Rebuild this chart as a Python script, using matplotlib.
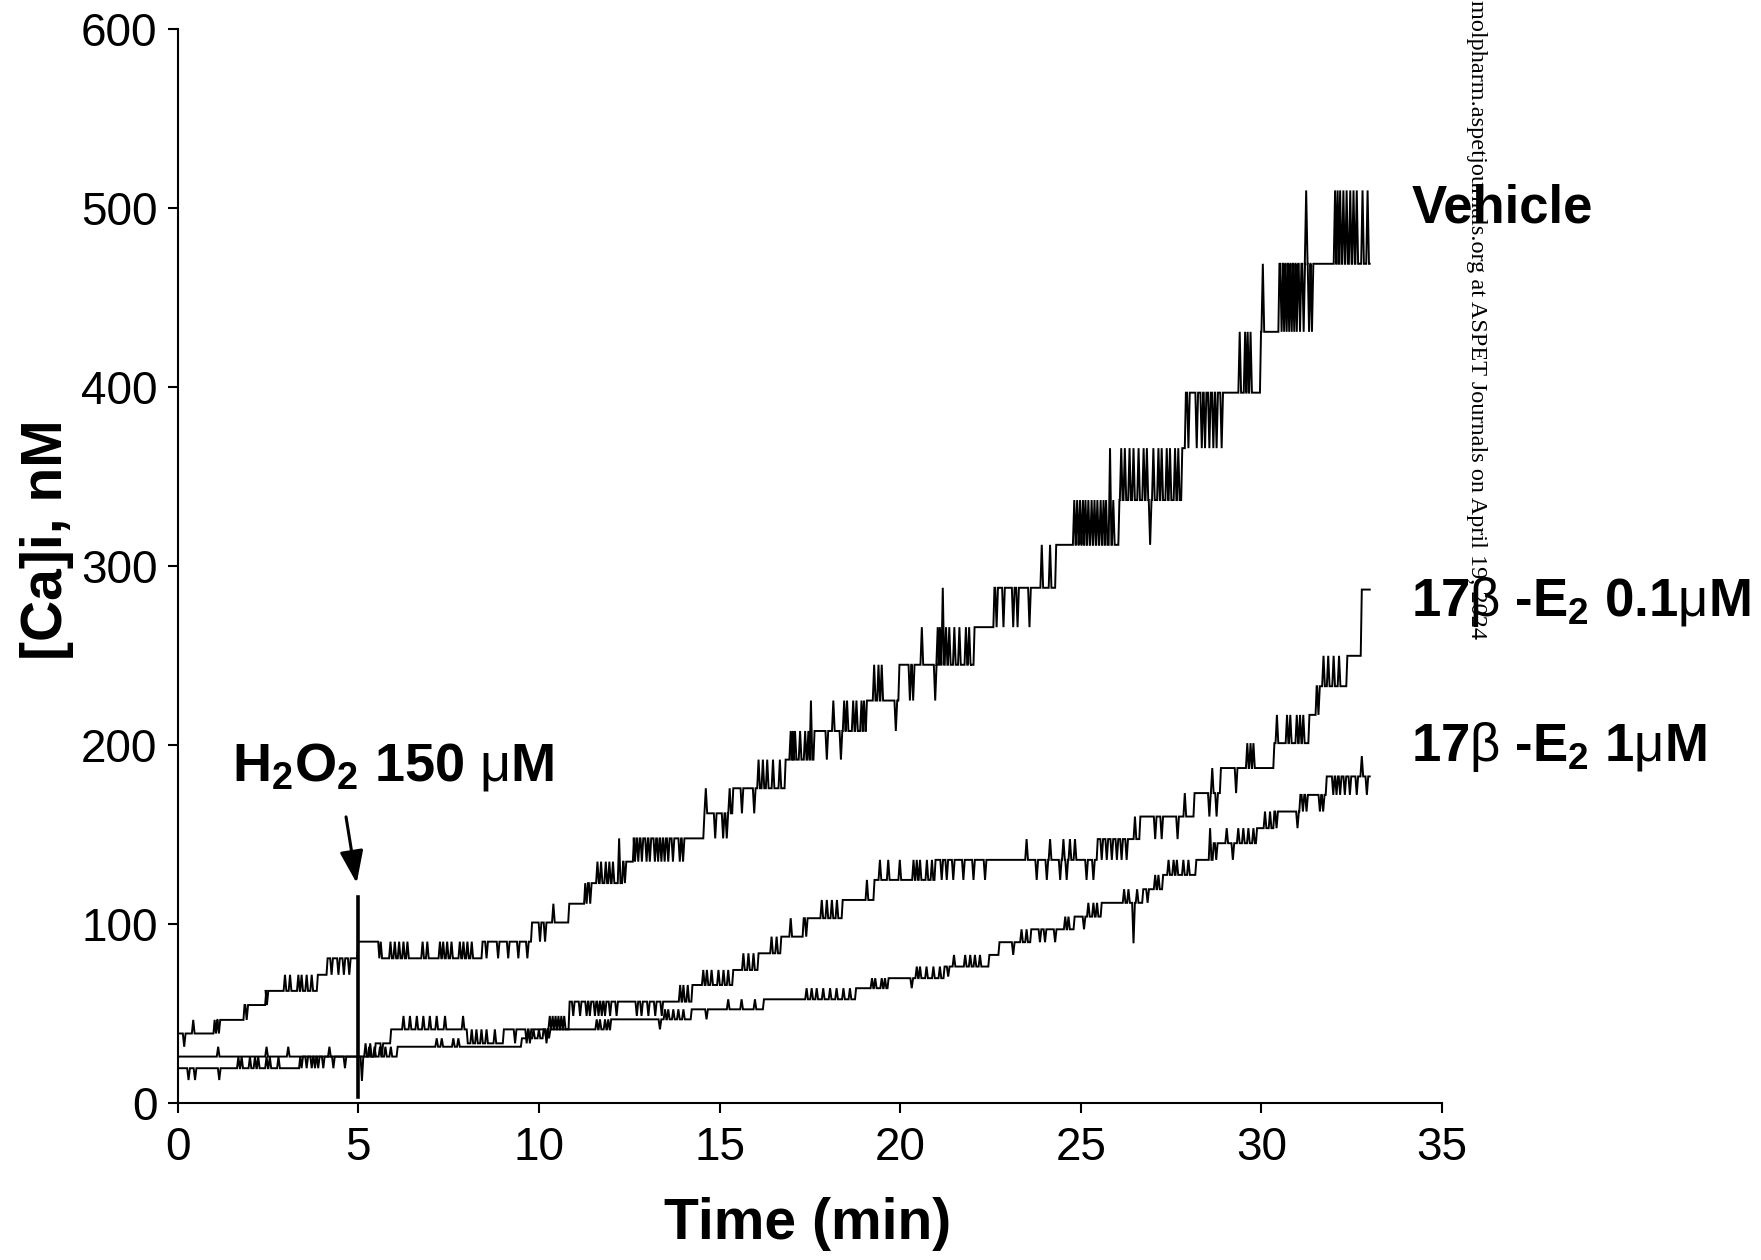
import matplotlib
matplotlib.use("Agg")
import matplotlib.pyplot as plt

plt.rcParams['font.family'] = ['Liberation Sans', 'DejaVu Sans']
plt.rcParams['mathtext.default'] = 'regular'
plt.rcParams['mathtext.fontset'] = 'custom'
plt.rcParams['mathtext.rm'] = 'Liberation Sans'
plt.rcParams['mathtext.it'] = 'Liberation Sans:italic'
plt.rcParams['mathtext.bf'] = 'Liberation Sans:bold'

# ---------------- data ----------------
T_END = 33.0
H2O2_TIME = 5.0
MARKER_RANGE = [3.7, 115.5]

# Vehicle
veh_step_t = [0, 0.99, 1.82, 2.42, 3.85, 4.12, 4.97, 5.55, 8.41, 9.78, 10.81, 11.25,
              12.30, 12.60, 14.55, 15.35, 16.80, 17.60, 19.05, 19.95, 22.03, 22.58,
              24.29, 26.04, 27.78, 27.88, 29.96, 30.47]
veh_step_v = [39, 46.6, 54.9, 62.8, 71.8, 81, 90.3, 81, 90.3, 101, 111.5, 123,
              135, 148, 162, 176, 192, 208, 225, 245, 266, 288,
              312, 337, 366, 397, 431, 469]
veh_spike_t = [0.18, 0.43, 1.06, 1.14, 1.91, 2.47,
               2.97, 3.11, 3.34, 3.43, 3.57, 3.71,
               4.26, 4.45, 4.60, 4.75,
               5.62, 5.89, 6.01, 6.13, 6.25, 6.36, 6.78, 6.91, 7.26, 7.35, 7.46, 7.58, 7.81, 7.91, 8.02, 8.14,
               8.55, 8.87, 9.15, 9.43, 9.68,
               10.03, 10.17, 10.40, 11.32, 11.42,
               11.62, 11.72, 11.85, 11.95, 12.05, 12.22, 12.38,
               12.66, 12.75, 12.85, 12.98, 13.07, 13.21, 13.30, 13.39, 13.48, 13.58, 13.71, 13.90, 13.99,
               14.62, 14.88, 15.10, 15.20, 15.28,
               15.62, 15.96, 16.08, 16.20, 16.32, 16.48, 16.67,
               16.97, 17.03, 17.09, 17.23, 17.37, 17.46, 17.53,
               17.97, 18.15, 18.36, 18.45, 18.53, 18.70, 18.79, 18.93, 19.00,
               19.28, 19.40, 19.49, 19.88,
               20.27, 20.36, 20.60, 20.97,
               21.04, 21.10, 21.18, 21.27, 21.36, 21.50, 21.64, 21.82, 21.91, 21.98,
               22.67, 22.86, 23.13, 23.25, 23.58, 23.92, 24.15,
               24.82, 24.90, 24.98, 25.06, 25.13, 25.21, 25.30, 25.38, 25.46, 25.55, 25.63, 25.70, 25.81, 25.90,
               26.12, 26.22, 26.35, 26.46, 26.60, 26.74, 26.83, 26.92, 27.01, 27.15, 27.24, 27.38, 27.47, 27.61, 27.70,
               27.98, 28.21, 28.35, 28.44, 28.56, 28.67, 28.76, 28.90,
               29.40, 29.55, 29.62, 29.70, 30.04,
               30.56, 30.63, 30.70, 30.77, 30.84, 30.91, 30.98, 31.07, 31.17, 31.24, 31.32, 31.40,
               32.04, 32.11, 32.18, 32.27, 32.36, 32.46, 32.55, 32.64, 32.80, 32.94]
veh_spike_v = [31.6, 46.6, 39, 39, 46.6, 54.9,
               71.8, 71.8, 71.8, 71.8, 71.8, 71.8,
               71.8, 71.8, 71.8, 71.8,
               90.3, 90.3, 90.3, 90.3, 90.3, 90.3, 90.3, 90.3, 90.3, 90.3, 90.3, 90.3, 90.3, 90.3, 90.3, 90.3,
               81, 81, 81, 81, 81,
               90.3, 90.3, 111.5, 111.5, 111.5,
               135, 135, 135, 135, 135, 148, 123,
               135, 135, 135, 135, 135, 135, 135, 135, 135, 135, 135, 135, 135,
               176, 148, 148, 148, 176,
               162, 162, 192, 192, 192, 192, 192,
               208, 208, 208, 208, 208, 208, 225,
               192, 225, 192, 225, 225, 225, 225, 225, 225,
               245, 245, 245, 208,
               225, 225, 266, 225,
               266, 266, 288, 266, 266, 266, 266, 266, 266, 245,
               266, 266, 266, 266, 266, 312, 312,
               337, 337, 337, 337, 337, 337, 337, 337, 337, 337, 337, 337, 366, 337,
               366, 366, 366, 366, 366, 366, 366, 312, 366, 366, 366, 366, 366, 366, 366,
               366, 366, 366, 366, 366, 366, 366, 366,
               431, 431, 431, 431, 469,
               431, 431, 431, 431, 431, 431, 431, 431, 431, 510, 431, 431,
               510, 510, 510, 510, 510, 510, 510, 510, 510, 510]

# 17beta-E2 0.1 uM
mid_step_t = [0, 5.45, 5.88, 8.00, 9.00, 10.82, 14.22, 15.35, 16.05, 16.68, 17.30, 18.38,
              19.26, 20.95, 25.44, 26.62, 28.12, 28.85, 30.33, 31.30, 31.50, 32.35, 32.75]
mid_step_v = [26.1, 33.5, 41.3, 33.5, 41.3, 56.8, 66.1, 74.5, 83.8, 93.1, 103.4, 113.6,
              124.8, 136, 147.6, 160.2, 173.3, 187.3, 201.2, 217, 233, 250, 287]
mid_spike_t = [1.12, 2.46, 3.06, 4.20, 5.20, 5.33, 5.65,
               6.25, 6.43, 6.62, 6.80, 6.98, 7.17, 7.40, 7.90,
               8.14, 8.27, 8.41, 8.55, 8.78,
               9.34, 9.66, 9.75, 10.21,
               10.30, 10.38, 10.46, 10.54, 10.62, 10.70,
               10.95, 11.14, 11.32, 11.41, 11.55, 11.65, 11.74, 11.83, 11.97, 12.15,
               12.71, 12.84, 13.03, 13.22, 13.40,
               13.91, 14.00, 14.12,
               14.55, 14.65, 14.78, 14.97, 15.11, 15.24,
               15.66, 15.80, 15.94, 16.44, 16.58, 16.97, 17.40,
               17.83, 17.97, 18.11, 18.25, 19.08, 19.19,
               19.44, 19.67, 19.99, 20.37, 20.46, 20.55, 20.74, 20.88,
               21.15, 21.29, 21.47, 21.75, 22.03, 22.35, 23.50,
               23.78, 24.06, 24.15, 24.43, 24.52, 24.61, 24.70, 24.84, 25.16, 25.35,
               25.58, 25.72, 25.86, 26.00, 26.13, 26.27, 26.50,
               27.06, 27.24, 27.68, 27.88, 28.56, 28.64, 28.76,
               29.30, 29.61, 29.70, 29.78, 30.20,
               30.43, 30.71, 30.80, 30.98, 31.07, 31.16, 31.58,
               31.72, 31.85, 32.00, 32.15]
mid_spike_v = [31.6, 31.6, 31.6, 31.6, 33.5, 33.5, 26.1,
               48.8, 48.8, 48.8, 48.8, 48.8, 48.8, 48.8, 48.8,
               41.3, 41.3, 41.3, 41.3, 41.3,
               33.5, 33.5, 33.5, 33.5,
               48.8, 48.8, 48.8, 48.8, 48.8, 48.8,
               48.8, 48.8, 48.8, 48.8, 48.8, 48.8, 48.8, 48.8, 48.8, 48.8,
               48.8, 48.8, 48.8, 48.8, 48.8,
               66.1, 66.1, 66.1,
               74.5, 74.5, 74.5, 74.5, 74.5, 74.5,
               83.8, 83.8, 83.8, 93.1, 93.1, 103.4, 93.1,
               113.6, 113.6, 113.6, 113.6, 124.8, 113.6,
               136, 136, 136, 136, 136, 136, 136, 136,
               124.8, 124.8, 124.8, 124.8, 124.8, 124.8, 147.6,
               124.8, 124.8, 147.6, 124.8, 147.6, 124.8, 147.6, 147.6, 124.8, 124.8,
               136, 136, 136, 136, 136, 136, 160.2,
               147.6, 147.6, 147.6, 173.3, 160.2, 187.3, 160.2,
               173.3, 201.2, 201.2, 201.2, 187.3,
               217, 217, 217, 217, 217, 217, 217,
               250, 250, 250, 250]

# 17beta-E2 1 uM
low_step_t = [0, 3.36, 6.06, 9.50, 10.10, 11.97, 14.20, 16.20, 18.75, 19.65, 21.20, 22.44,
              22.72, 23.60, 24.80, 25.55, 26.70, 27.25, 28.17, 28.65, 29.85, 30.33, 31.05, 31.78]
low_step_v = [19.6, 26.1, 31.6, 36.3, 41.3, 46.9, 52.5, 58.1, 64.3, 69.9, 76.4, 82.9,
              90.0, 97.2, 104.3, 112, 119.6, 127.6, 136, 145.3, 153.7, 163, 172.3, 182.6]
low_spike_t = [0.30, 0.48, 1.15,
               1.68, 1.77, 2.00, 2.14, 2.23, 2.46, 2.55, 2.79,
               3.43, 3.57, 3.71, 3.80, 3.89, 4.03, 4.31, 4.63,
               5.10, 5.30, 5.45, 5.60, 5.75, 5.90,
               7.17, 7.31, 7.63, 7.77,
               9.70, 9.85, 10.00, 10.20, 10.28,
               11.60, 11.69, 11.83, 11.92, 13.35,
               13.49, 13.58, 13.72, 13.86, 14.00, 14.64,
               15.24, 15.61, 15.98,
               17.41, 17.55, 17.69, 17.87, 18.06, 18.24, 18.43, 18.61,
               19.22, 19.31, 19.49, 19.58, 20.32,
               20.46, 20.55, 20.73, 20.92, 21.10, 21.33,
               21.49, 21.80, 21.94, 22.07, 22.21,
               23.13, 23.36, 23.50, 23.87, 24.01, 24.29,
               24.57, 24.66, 25.09, 25.21, 25.35, 25.45,
               26.20, 26.32, 26.46, 26.56, 26.85,
               27.06, 27.15, 27.43, 27.57, 27.66, 27.84, 27.98,
               28.58, 28.75, 29.04, 29.21, 29.36, 29.50, 29.64, 29.78,
               30.10, 30.24, 30.42, 31.00,
               31.15, 31.25, 31.62, 31.71,
               31.99, 32.08, 32.18, 32.31, 32.45, 32.64, 32.78, 32.92]
low_spike_v = [13, 13, 13,
               26.1, 26.1, 26.1, 26.1, 26.1, 26.1, 26.1, 26.1,
               19.6, 19.6, 19.6, 19.6, 19.6, 19.6, 19.6, 19.6,
               12.5, 31.6, 31.6, 31.6, 31.6, 31.6,
               36.3, 36.3, 36.3, 36.3,
               41.3, 41.3, 41.3, 36.3, 36.3,
               46.9, 46.9, 46.9, 46.9, 41.3,
               52.5, 52.5, 52.5, 52.5, 52.5, 46.9,
               58.1, 58.1, 58.1,
               64.3, 64.3, 64.3, 64.3, 64.3, 64.3, 64.3, 64.3,
               69.9, 69.9, 69.9, 69.9, 64.3,
               76.4, 76.4, 76.4, 76.4, 76.4, 70.8,
               82.9, 82.9, 82.9, 82.9, 82.9,
               82.9, 97.2, 97.2, 90.0, 90.0, 90.0,
               104.3, 104.3, 97.2, 112, 112, 112,
               119.6, 119.6, 89.4, 119.6, 112,
               127.6, 127.6, 136, 136, 136, 136, 136,
               153.7, 136, 153.7, 136, 153.7, 153.7, 153.7, 153.7,
               163, 163, 153.7, 153.7,
               163, 163, 163, 163,
               172.3, 172.3, 172.3, 172.3, 172.3, 172.3, 194, 172.3]

labels = ["Vehicle",
          r"17$\mathrm{\beta}$ -E$_2$ 0.1$\mathrm{\mu}$M",
          r"17$\mathrm{\beta}$ -E$_2$ 1$\mathrm{\mu}$M"]
label_y = [500, 280, 199]
h2o2_label = r"H$_2$O$_2$ 150 $\mathrm{\mu}$M"
x_ticks = [0, 5, 10, 15, 20, 25, 30, 35]
y_ticks = [0, 100, 200, 300, 400, 500, 600]


def build(step_t, step_v, spike_t, spike_v, t_end, hw=0.038, rise=0.03):
    events = [(t, 0, v) for t, v in zip(step_t[1:], step_v[1:])]
    events += [(t, 1, v) for t, v in zip(spike_t, spike_v)]
    events.sort()
    xs, ys = [step_t[0]], [step_v[0]]
    cur = step_v[0]
    for t, kind, v in events:
        if kind == 0:
            xs += [t, t + rise]
            ys += [cur, v]
            cur = v
        else:
            xs += [t - hw, t, t + hw]
            ys += [cur, v, cur]
    xs.append(t_end)
    ys.append(cur)
    return xs, ys


W, H = 1761, 1260
fig = plt.figure(figsize=(W / 100, H / 100), dpi=100)
x0, x1 = 177.7, 1442.0
y0, y1 = 1103.3, 29.3
ax = fig.add_axes([x0 / W, 1 - y0 / H, (x1 - x0) / W, (y0 - y1) / H])

for st, sv, pt, pv in [(veh_step_t, veh_step_v, veh_spike_t, veh_spike_v),
                       (mid_step_t, mid_step_v, mid_spike_t, mid_spike_v),
                       (low_step_t, low_step_v, low_spike_t, low_spike_v)]:
    xs, ys = build(st, sv, pt, pv, T_END)
    ax.plot(xs, ys, color='black', lw=1.4, solid_joinstyle='miter')

# H2O2 addition marker
ax.plot([H2O2_TIME, H2O2_TIME], MARKER_RANGE, color='black', lw=2.6)
ax.annotate('', xy=(4.955, 123), xytext=(4.66, 160),
            arrowprops=dict(arrowstyle='-|>,head_length=0.55,head_width=0.2',
                            mutation_scale=36, lw=2.2, color='black',
                            shrinkA=0, shrinkB=0))
ax.text(1.5, 188, h2o2_label, fontsize=39, fontweight='bold',
        ha='left', va='center')

for lab, ly in zip(labels, label_y):
    ax.text(34.15, ly, lab, fontsize=38, fontweight='bold', ha='left',
            va='center', clip_on=False)

ax.set_xlim(0, 35)
ax.set_ylim(0, 600)
ax.set_xticks(x_ticks)
ax.set_yticks(y_ticks)
for s in ['top', 'right']:
    ax.spines[s].set_visible(False)
for s in ['left', 'bottom']:
    ax.spines[s].set_linewidth(1.5)
ax.tick_params(axis='both', direction='out', length=7.5, width=1.5,
               labelsize=33)
ax.tick_params(axis='y', pad=7)
ax.tick_params(axis='x', pad=9)

fig.text(808 / W, 1 - 1224 / H, "Time (min)", fontsize=41, fontweight='bold',
         ha='center', va='center')
fig.text(47 / W, 1 - 540 / H, "[Ca]i, nM", fontsize=41, fontweight='bold',
         ha='center', va='center', rotation=90)

fig.text(1476 / W, 1.0, "molpharm.aspetjournals.org at ASPET Journals on April 19, 2024",
         fontsize=17.5, family='Liberation Serif', rotation=270,
         ha='center', va='top')

fig.savefig('out.png', dpi=100)
